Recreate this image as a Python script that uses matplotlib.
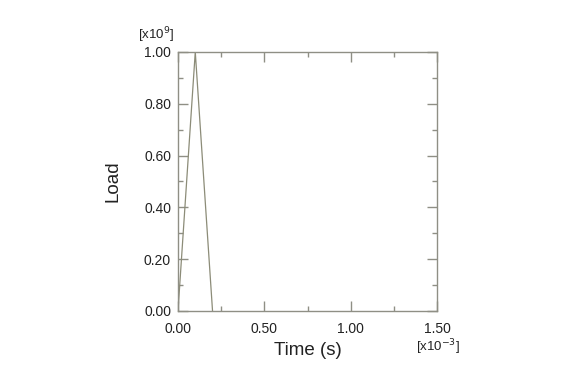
import matplotlib
matplotlib.use("Agg")
import matplotlib.pyplot as plt
from matplotlib.ticker import MultipleLocator, FormatStrFormatter

plt.rcParams['font.family'] = ['Liberation Sans', 'DejaVu Sans']

# time in units of 1e-3 s, load in units of 1e9
time = [0.0, 0.1, 0.2]
load = [0.0, 1.0, 0.0]

frame = '#8f8f85'
line_col = '#8c8c78'

fig = plt.figure(figsize=(5.7, 3.84), dpi=100)
ax = fig.add_axes([178 / 570, 73 / 384, 259 / 570, 259 / 384])
ax.plot(time, load, color=line_col, linewidth=0.9)

ax.set_xlim(0, 1.5)
ax.set_ylim(0, 1.0)
ax.xaxis.set_major_locator(MultipleLocator(0.5))
ax.xaxis.set_minor_locator(MultipleLocator(0.25))
ax.yaxis.set_major_locator(MultipleLocator(0.2))
ax.yaxis.set_minor_locator(MultipleLocator(0.1))
ax.xaxis.set_major_formatter(FormatStrFormatter('%.2f'))
ax.yaxis.set_major_formatter(FormatStrFormatter('%.2f'))

ax.tick_params(which='both', direction='in', top=True, right=True,
               color=frame, labelsize=10, labelcolor='#222222', width=1.0)
ax.tick_params(axis='x', which='major', length=7.5, pad=8)
ax.tick_params(axis='y', which='major', length=7.5, pad=5)
ax.tick_params(which='minor', length=3.8)
for s in ax.spines.values():
    s.set_color(frame)
    s.set_linewidth(1.0)

ax.set_xlabel('Time (s)', fontsize=13.5, color='#222222', labelpad=4)
ax.set_ylabel('Load', fontsize=13.5, color='#222222', labelpad=16)

ax.text(1.004, -0.14, r'[x10$^{-3}$]', transform=ax.transAxes, fontsize=9.5,
        color='#222222', ha='center', va='center')
ax.text(-0.085, 1.065, r'[x10$^{9}$]', transform=ax.transAxes, fontsize=9.5,
        color='#222222', ha='center', va='center')

fig.savefig('out.png', dpi=100)
